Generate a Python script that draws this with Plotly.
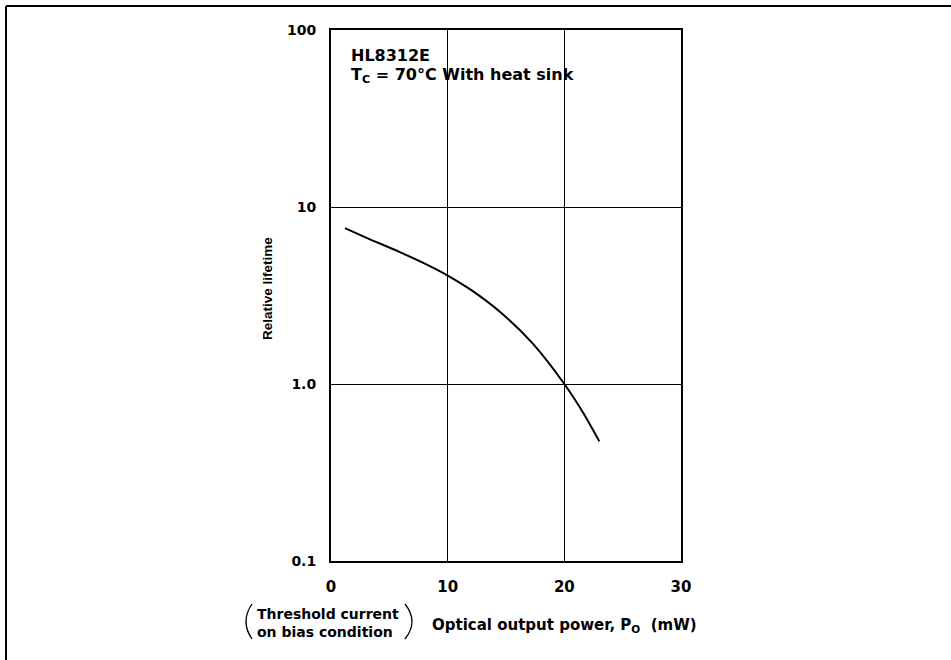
import plotly.graph_objects as go

# ---- data ----
power_mw = [1.2, 3, 5.9, 8, 10, 12, 14.5, 17.3, 20, 21.6, 23]
rel_life = [7.60, 6.72, 5.56, 4.80, 4.10, 3.40, 2.55, 1.69, 1.00, 0.69, 0.474]

x_ticks = [0, 10, 20, 30]
x_ticktext = ["0", "10", "20", "30"]
y_ticks = [0.1, 1, 10, 100]
y_ticktext = ["0.1", "1.0", "10", "100"]

# ---- layout geometry (pixels) ----
W, H = 951, 660
L, R, T, B = 331, 681, 30, 561


def px(x):
    return (x - L) / (R - L)


def py(y):
    return (B - y) / (B - T)


BOLD = dict(family="DejaVu Sans", color="black", weight="bold")

fig = go.Figure()
fig.add_trace(go.Scatter(
    x=power_mw, y=rel_life, mode="lines",
    line=dict(color="black", width=2, shape="spline", smoothing=0.8),
    showlegend=False, hoverinfo="skip",
))

axis_common = dict(
    showline=True, linecolor="black", linewidth=2, mirror=True,
    showgrid=True, gridcolor="black", gridwidth=1.2,
    zeroline=False, ticks="",
)

fig.update_xaxes(
    range=[0, 30], tickvals=x_ticks, ticktext=x_ticktext,
    tickfont=dict(size=15, **BOLD), ticklabelstandoff=11,
    **axis_common,
)
fig.update_yaxes(
    type="log", range=[-1, 2], tickvals=y_ticks, ticktext=y_ticktext,
    tickfont=dict(size=14, **BOLD), ticklabelstandoff=10,
    **axis_common,
)

ann = []
ann.append(dict(text="HL8312E", x=px(349), y=py(55), xref="paper", yref="paper",
                xanchor="left", yanchor="middle", showarrow=False,
                font=dict(size=16, **BOLD)))
ann.append(dict(text="T<sub>C</sub> = 70°C With heat sink", x=px(349), y=py(75),
                xref="paper", yref="paper", xanchor="left", yanchor="middle",
                showarrow=False, font=dict(size=16, **BOLD)))
ann.append(dict(text="Relative lifetime", x=px(267), y=py(289), xref="paper", yref="paper",
                xanchor="center", yanchor="middle", textangle=-90, showarrow=False,
                font=dict(size=13.5, family="Liberation Sans", color="black", weight="bold")))
ann.append(dict(text="Threshold current<br>on bias condition", x=px(255), y=py(623),
                xref="paper", yref="paper", xanchor="left", yanchor="middle",
                align="left", showarrow=False,
                font=dict(size=14, **BOLD)))
ann.append(dict(text="Optical output power, P<sub>O</sub>  (mW)", x=px(430), y=py(625),
                xref="paper", yref="paper", xanchor="left", yanchor="middle",
                showarrow=False, font=dict(size=15, **BOLD)))

shapes = []
# outer frame (top and left edges)
shapes.append(dict(type="line", xref="paper", yref="paper",
                   x0=px(6), y0=py(6), x1=px(951), y1=py(6),
                   line=dict(color="black", width=2)))
shapes.append(dict(type="line", xref="paper", yref="paper",
                   x0=px(6), y0=py(6), x1=px(6), y1=py(660),
                   line=dict(color="black", width=2)))


def paren(xt, ctrl_x, y0, y1):
    ym = (y0 + y1) / 2
    return dict(type="path", xref="paper", yref="paper",
                path=f"M {px(xt)} {py(y0)} Q {px(ctrl_x)} {py(ym)} {px(xt)} {py(y1)}",
                line=dict(color="black", width=1.3))


shapes.append(paren(252, 240, 604, 639))
shapes.append(paren(405, 419, 604, 639))

fig.update_layout(
    width=W, height=H,
    margin=dict(l=L, r=W - R, t=T, b=H - B, pad=0),
    paper_bgcolor="white", plot_bgcolor="white",
    annotations=ann, shapes=shapes,
    font=dict(family="DejaVu Sans", color="black"),
)

fig.write_html("out.html")
